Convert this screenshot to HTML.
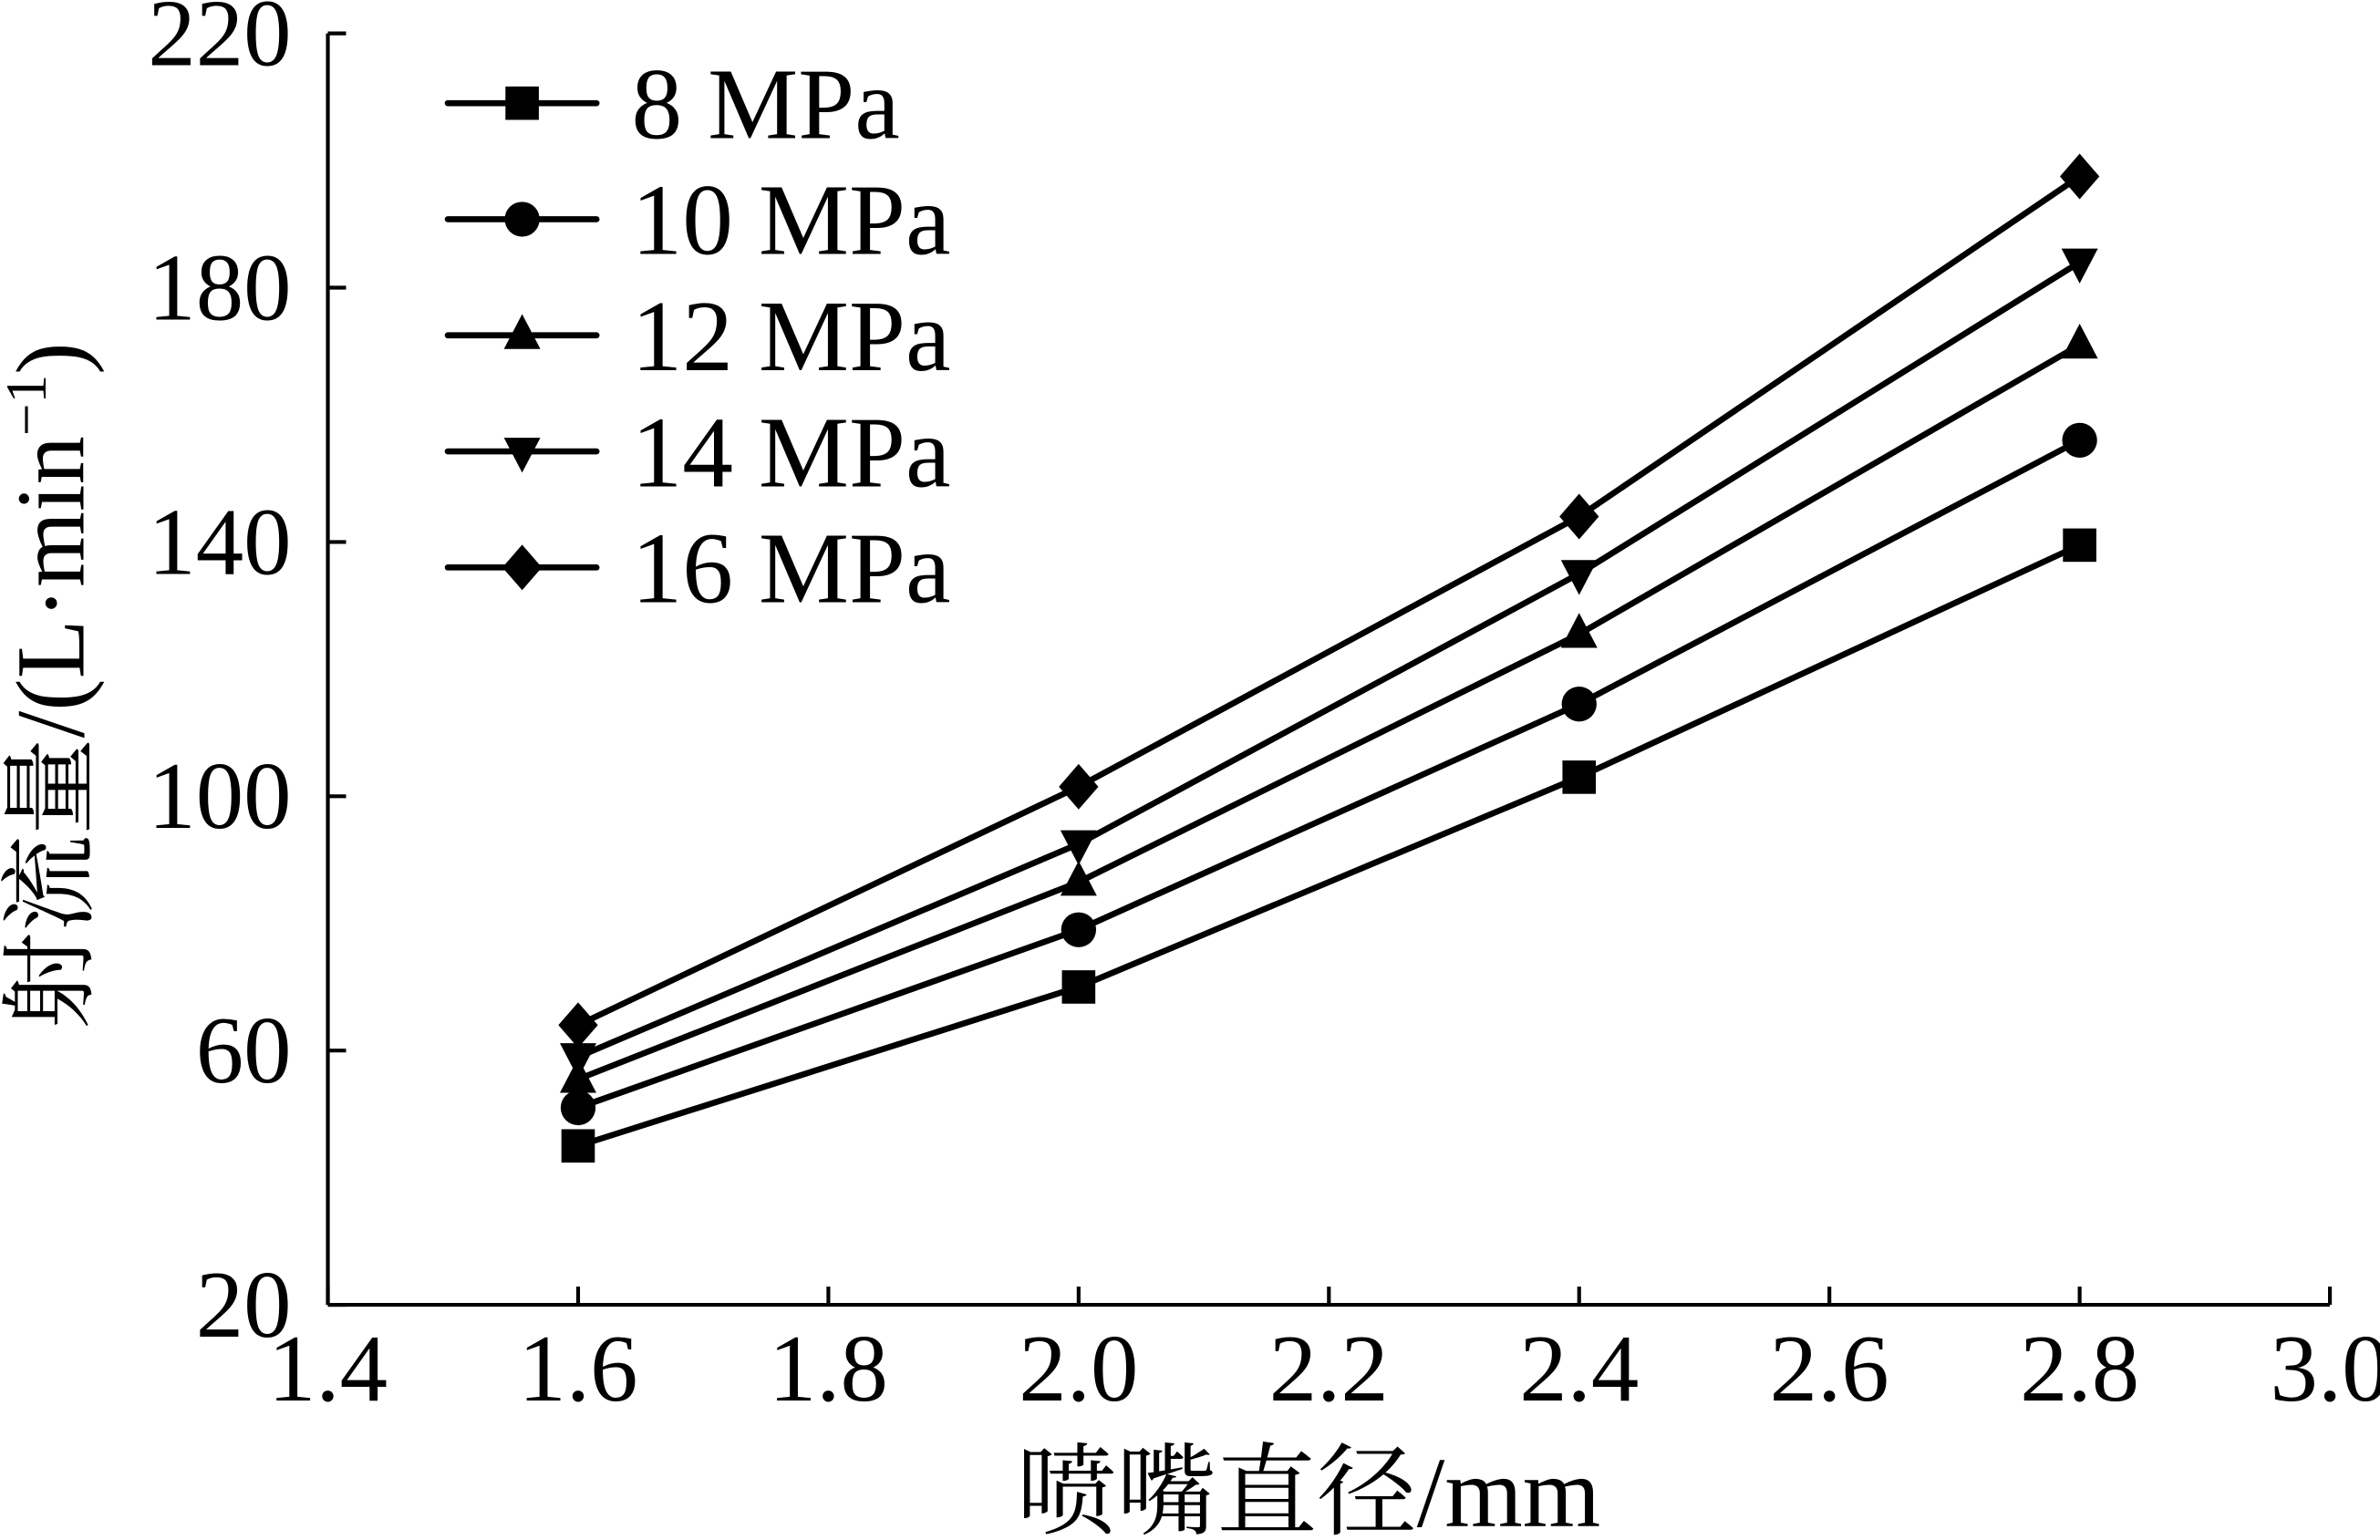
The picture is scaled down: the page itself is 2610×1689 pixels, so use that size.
<!DOCTYPE html>
<html><head><meta charset="utf-8"><style>
html,body{margin:0;padding:0;background:#fff;}
svg{display:block;}
text{font-family:"Liberation Serif","Noto Serif CJK SC",serif;fill:#000;}
</style></head><body>
<svg id="chart" width="2610" height="1689" viewBox="0 0 1568 1015" preserveAspectRatio="none" xmlns="http://www.w3.org/2000/svg" font-family="Liberation Serif, Noto Serif CJK SC, serif">
<g id="axes"></g>
<g id="series"></g>
<g id="legend"></g>
<text x="862" y="1006" font-size="66" text-anchor="middle">喷嘴直径/mm</text>
<text transform="translate(55,452) rotate(-90)" font-size="64" text-anchor="middle">射流量/(L·min<tspan font-size="38" dy="-25">−1</tspan><tspan dy="25">)</tspan></text>
</svg>
<script>
const categories=[1.6,2.0,2.4,2.8];
const seriesNames=["8 MPa","10 MPa","12 MPa","14 MPa","16 MPa"];
const markers=["square","circle","triangle","invtriangle","diamond"];
const s8=[45,70,103,139.5];
const s10=[51,79,114.5,156];
const s12=[55.5,86.5,125.5,171];
const s14=[59,92.5,135,184];
const s16=[64,101.5,144,197.5];
const xTicks=["1.4","1.6","1.8","2.0","2.2","2.4","2.6","2.8","3.0"];
const yTicks=["20","60","100","140","180","220"];
const allSeries=[s8,s10,s12,s14,s16];
const NS="http://www.w3.org/2000/svg";
const L=216,R=1535,T=22,B=860;
function X(v){return L+(v-1.4)/1.6*(R-L);}
function Y(v){return B-(v-20)/200*(B-T);}
function mk(tag,attrs,parent){const e=document.createElementNS(NS,tag);for(const k in attrs)e.setAttribute(k,attrs[k]);parent.appendChild(e);return e;}
const axes=document.getElementById('axes');
let e=mk('line',{x1:L,y1:T,x2:L,y2:B,stroke:'#000','stroke-width':2.5},axes);


e=mk('line',{x1:L,y1:B,x2:R,y2:B,stroke:'#000','stroke-width':2.5},axes);


xTicks.forEach(t=>{const x=X(parseFloat(t));
 const tk=mk('line',{x1:x,y1:B,x2:x,y2:B-12,stroke:'#000','stroke-width':2.5},axes);
 
 
 const tx=mk('text',{x:x,y:B+63,'font-size':63,'text-anchor':'middle'},axes);tx.textContent=t;
 
 
});
yTicks.forEach(t=>{const y=Y(parseFloat(t));
 const tk=mk('line',{x1:L,y1:y,x2:L+12,y2:y,stroke:'#000','stroke-width':2.5},axes);
 
 
 const tx=mk('text',{x:L-24,y:y+21,'font-size':63,'text-anchor':'end'},axes);tx.textContent=t;
 
 
});
function marker(type,x,y,parent){let m;
 if(type==='square')m=mk('rect',{x:x-11,y:y-11,width:22,height:22},parent);
 else if(type==='circle')m=mk('circle',{cx:x,cy:y,r:11.5},parent);
 else if(type==='triangle')m=mk('polygon',{points:`${x},${y-14} ${x-12},${y+9} ${x+12},${y+9}`},parent);
 else if(type==='invtriangle')m=mk('polygon',{points:`${x-12},${y-9} ${x+12},${y-9} ${x},${y+14}`},parent);
 else m=mk('polygon',{points:`${x},${y-15} ${x+13},${y} ${x},${y+15} ${x-13},${y}`},parent);
 m.setAttribute('fill','#000');return m;}
const sg=document.getElementById('series');
allSeries.forEach((s,i)=>{
 const g=mk('g',{},sg);
 
 
 const pl=mk('polyline',{points:s.map((v,j)=>X(categories[j])+','+Y(v)).join(' '),fill:'none',stroke:'#000','stroke-width':4},g);
 
 
 s.forEach((v,j)=>{const m=marker(markers[i],X(categories[j]),Y(v),g);
  
  });
});
const lg=document.getElementById('legend');
seriesNames.forEach((n,i)=>{const y=68+i*76.5;
 const g=mk('g',{},lg);
 
 
 mk('line',{x1:295,y1:y,x2:393,y2:y,stroke:'#000','stroke-width':4,'stroke-linecap':'round'},g);
 marker(markers[i],344,y,g);
 const t=mk('text',{x:416,y:y+23,'font-size':67},g);t.textContent=n;
});
</script>
</body></html>
